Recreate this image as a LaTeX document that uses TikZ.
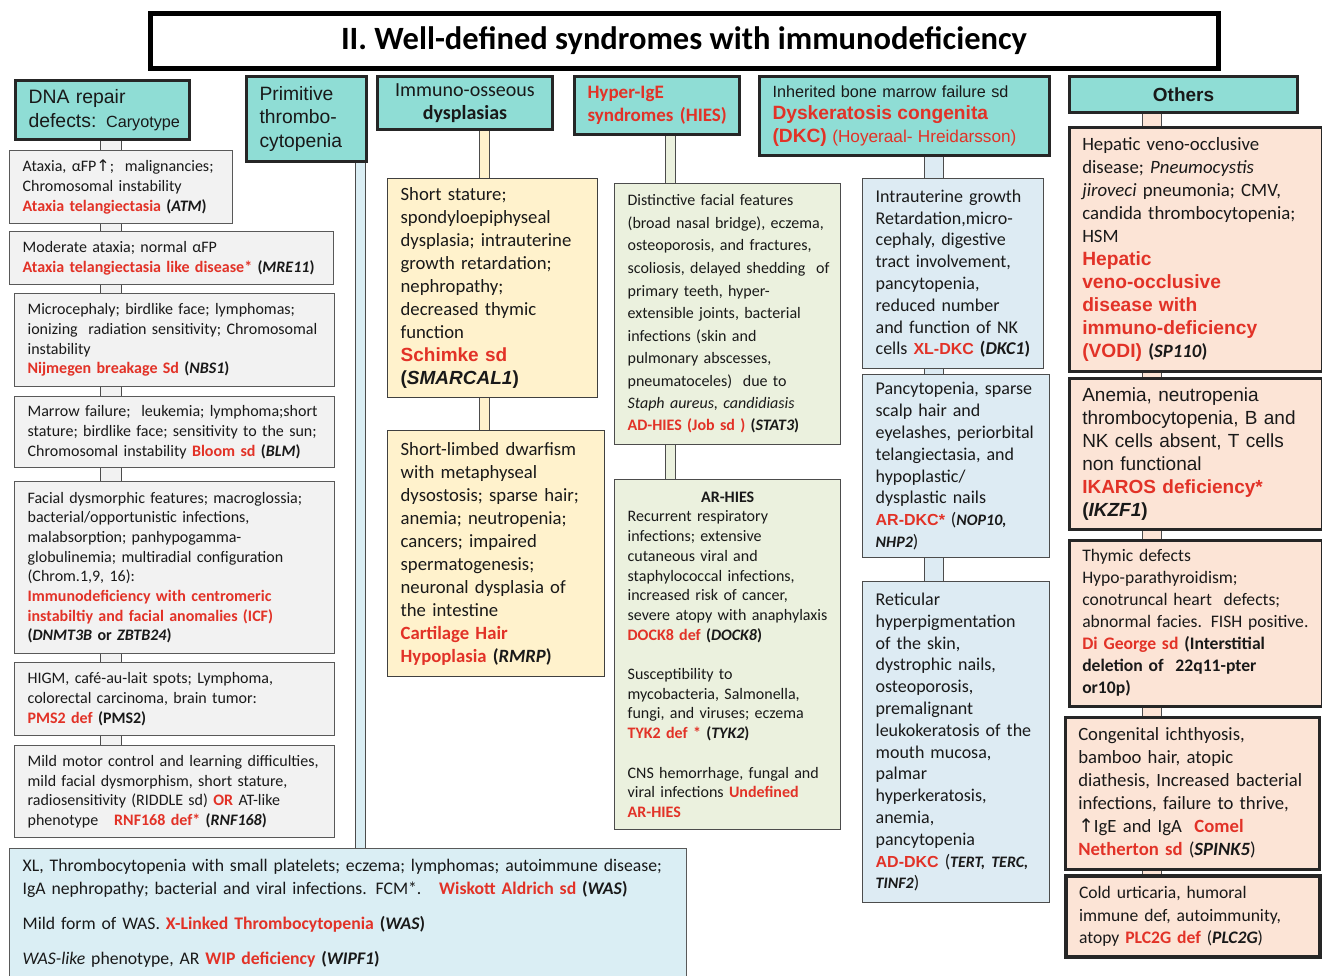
\documentclass[tikz,border=0pt]{standalone}
\usepackage{fontspec}
\setmainfont{Carlito}
\newfontfamily\arialf{Liberation Sans}
\newfontfamily\symf{DejaVu Sans}
\usepackage{tikz}
\tikzset{>=latex}
\definecolor{idred}{RGB}{226,50,39}
\definecolor{hdrteal}{RGB}{143,221,213}
\definecolor{boxgrey}{RGB}{242,242,242}
\definecolor{boxyellow}{RGB}{255,242,204}
\definecolor{boxgreen}{RGB}{235,241,222}
\definecolor{boxblue}{RGB}{221,235,243}
\definecolor{wasblue}{RGB}{218,238,244}
\definecolor{boxpeach}{RGB}{252,228,214}
\newcommand\rd[1]{\textcolor{idred}{\textbf{#1}}}
\newcommand\ard[1]{{\arialf\bfseries\color{idred}#1}}
\newcommand\dred[1]{{\arialf\bfseries\color{idred}\fontsize{16}{21.8}\selectfont#1}}
\newcommand\gene[1]{\textbf{(\textit{#1})}}
\newcommand\uparr{{\symf ↑}}
\tikzset{
  wh/.code 2 args={\pgfmathsetmacro\boxtw{#1-26}\tikzset{minimum width=#1pt,text width=\boxtw pt,minimum height=#2pt}},
  base/.style={anchor=north west,inner xsep=13pt,inner ysep=0pt,align=left,text=black!90},
  hdr/.style={base,draw=black!85,line width=3pt,fill=hdrteal},
  gbox/.style={base,draw=black!65,line width=1.3pt,fill=boxgrey,font=\fontsize{16}{19.7}\selectfont},
  ybox/.style={base,draw=black!75,line width=1.3pt,fill=boxyellow,font=\fontsize{18.7}{23}\selectfont},
  grbox/.style={base,draw=black!70,line width=1.3pt,fill=boxgreen,font=\fontsize{16}{22.5}\selectfont},
  dbox/.style={base,draw=black!70,line width=1.3pt,fill=boxblue,font=\fontsize{18}{21.8}\selectfont},
  obox/.style={base,draw=black!85,line width=2.5pt,fill=boxpeach,font=\fontsize{18.8}{23}\selectfont},
  bar/.style 2 args={draw=black!70,line width=1.2pt,double=#1,double distance=#2},
}
\begin{document}
\begin{tikzpicture}[x=1pt,y=-1pt]
  \useasboundingbox (0,0) rectangle (1322,975);
  \clip (0,0) rectangle (1322,975);
  \node[draw,line width=5pt,minimum width=1068pt,minimum height=55pt,anchor=north west,
        font=\bfseries\fontsize{32.5}{36}\selectfont] (ttl) at (147.5,10.5)
        {II. Well-defined syndromes with immunodeficiency};

  \node[hdr,wh={174}{59},font=\arialf\fontsize{19.4}{24}\selectfont] (h1) at (14,79)
    {DNA repair\\\mbox{defects: {\fontsize{16.2}{24}\selectfont Caryotype}}};
  \node[hdr,wh={120}{85},font=\arialf\fontsize{19.3}{23.5}\selectfont] (h2) at (245,75)
    {Primitive\\thrombo-\\cytopenia};
  \node[hdr,wh={175}{53},align=center,font=\fontsize{20}{23}\selectfont] (h3) at (376,75)
    {Immuno-osseous\\\textbf{dysplasias}};
  \node[hdr,wh={165}{58},font=\bfseries\fontsize{19}{23}\selectfont,text=idred] (h4) at (573,75)
    {Hyper-IgE\\\mbox{syndromes (HIES)}};
  \node[hdr,wh={290}{79},font=\arialf\fontsize{16.2}{22.5}\selectfont] (h5) at (758,75)
    {Inherited bone marrow failure sd\\
     {\color{idred}\bfseries\fontsize{19.2}{22.5}\selectfont Dyskeratosis congenita}\\
     \mbox{\color{idred}\fontsize{19.2}{22.5}\selectfont\textbf{(DKC)} {\fontsize{17.2}{22.5}\selectfont(Hoyeraal- Hreidarsson)}}};
  \node[hdr,wh={228}{36},align=center,font=\arialf\bfseries\fontsize{19}{22}\selectfont] (h6) at (1068,75)
    {Others};

  \node[gbox,wh={223}{73}] (b1) at (9,150)
    {Ataxia, αFP\uparr;~ malignancies;\\Chromosomal instability\\\rd{Ataxia telangiectasia} \gene{ATM}};
  \node[gbox,wh={324}{53}] (b2) at (9,231)
    {Moderate ataxia; normal αFP\\\rd{Ataxia telangiectasia like disease*} \gene{MRE11}};
  \node[gbox,wh={320}{93}] (b3) at (14,293)
    {Microcephaly; birdlike face; lymphomas;\\ionizing~ radiation sensitivity; Chromosomal\\instability\\\rd{Nijmegen breakage Sd} \gene{NBS1}};
  \node[gbox,wh={320}{71}] (b4) at (14,396)
    {Marrow failure;~ leukemia; lymphoma;short\\stature; birdlike face; sensitivity to the sun;\\Chromosomal instability \rd{Bloom sd} \gene{BLM}};
  \node[gbox,wh={320}{172}] (b5) at (14,481)
    {Facial dysmorphic features; macroglossia;\\bacterial/opportunistic infections,\\malabsorption; panhypogamma-\\globulinemia; multiradial configuration\\(Chrom.1,9, 16):\\
     \rd{Immunodeficiency with centromeric}\\\rd{instabiltiy and facial anomalies (ICF)}\\\textbf{(\textit{DNMT3B} or \textit{ZBTB24})}};
  \node[gbox,wh={320}{73}] (b6) at (14,662)
    {HIGM, café-au-lait spots; Lymphoma,\\colorectal carcinoma, brain tumor:\\\rd{PMS2 def} \textbf{(PMS2)}};
  \node[gbox,wh={320}{92}] (b7) at (14,745)
    {Mild motor control and learning difficulties,\\mild facial dysmorphism, short stature,\\radiosensitivity (RIDDLE sd) \rd{OR} AT-like\\phenotype\quad \rd{RNF168 def*} \gene{RNF168}};

  \node[base,draw=black!65,line width=1.3pt,fill=wasblue,wh={677}{130},font=\fontsize{17.7}{23}\selectfont] (was) at (9,848)
    {XL, Thrombocytopenia with small platelets; eczema; lymphomas; autoimmune disease;\\
     IgA nephropathy; bacterial and viral infections. FCM*.\quad \rd{Wiskott Aldrich sd} \gene{WAS}\\[12pt]
     Mild form of WAS. \rd{X-Linked Thrombocytopenia} \gene{WAS}\\[12pt]
     \textit{WAS-like} phenotype, AR \rd{WIP deficiency} \gene{WIPF1}};

  \node[ybox,wh={210}{219}] (y1) at (387,178)
    {Short stature;\\spondyloepiphyseal\\dysplasia; intrauterine\\growth retardation;\\nephropathy;\\decreased thymic\\function\\
     {\fontsize{19}{23}\selectfont\ard{Schimke sd}}\\{\arialf\bfseries\fontsize{19}{23}\selectfont(\textit{SMARCAL1})}};
  \node[ybox,wh={217}{246}] (y2) at (387,430)
    {Short-limbed dwarfism\\with metaphyseal\\dysostosis; sparse hair;\\anemia; neutropenia;\\cancers; impaired\\spermatogenesis;\\neuronal dysplasia of\\the intestine\\
     \rd{Cartilage Hair}\\\rd{Hypoplasia} \gene{RMRP}};

  \node[grbox,wh={226}{261}] (g1) at (614,183)
    {Distinctive facial features\\(broad nasal bridge), eczema,\\osteoporosis, and fractures,\\\mbox{scoliosis, delayed shedding~ of}\\primary teeth, hyper-\\extensible joints, bacterial\\infections (skin and\\pulmonary abscesses,\\pneumatoceles)~ due to\\
     \textit{Staph aureus, candidiasis}\\\rd{AD-HIES (Job sd )} \gene{STAT3}};
  \node[grbox,wh={226}{350},font=\fontsize{16}{19.7}\selectfont] (g2) at (614,479)
    {\makebox[\linewidth]{\textbf{AR-HIES}}\\Recurrent respiratory\\infections; extensive\\cutaneous viral and\\staphylococcal infections,\\increased risk of cancer,\\\mbox{severe atopy with anaphylaxis}\\\rd{DOCK8 def} \gene{DOCK8}\\[19.7pt]
     Susceptibility to\\mycobacteria, Salmonella,\\fungi, and viruses; eczema\\\rd{TYK2 def *} \gene{TYK2}\\[19.7pt]
     CNS hemorrhage, fungal and\\viral infections \rd{Undefined}\\\rd{AR-HIES}};

  \node[dbox,wh={181}{190}] (d1) at (862,178)
    {Intrauterine growth\\Retardation,micro-\\cephaly, digestive\\tract involvement,\\pancytopenia,\\reduced number\\and function of NK\\\mbox{cells \dred{XL-DKC} \gene{DKC1}}};
  \node[dbox,wh={187}{183}] (d2) at (862,374)
    {Pancytopenia, sparse\\scalp hair and\\eyelashes, periorbital\\telangiectasia, and\\hypoplastic/\\dysplastic nails\\
     \mbox{\dred{AR-DKC*} ({\fontsize{16}{21.8}\selectfont\textbf{\textit{NOP10,}}}}\\{\fontsize{16}{21.8}\selectfont\textbf{\textit{NHP2}}})};
  \node[dbox,wh={187}{321}] (d3) at (862,581)
    {Reticular\\hyperpigmentation\\of the skin,\\dystrophic nails,\\osteoporosis,\\premalignant\\leukokeratosis of the\\mouth mucosa,\\palmar\\hyperkeratosis,\\anemia,\\pancytopenia\\
     \mbox{\dred{AD-DKC} ({\fontsize{16}{21.8}\selectfont\textbf{\textit{TERT, TERC,}}}}\\{\fontsize{16}{21.8}\selectfont\textbf{\textit{TINF2}}})};

  \node[obox,wh={253}{244}] (o1) at (1068,126)
    {Hepatic veno-occlusive\\disease; \textit{Pneumocystis}\\\textit{jiroveci} pneumonia; CMV,\\candida thrombocytopenia;\\HSM\\
     {\fontsize{19.2}{23}\selectfont\ard{Hepatic}\\\ard{veno-occlusive}\\\ard{disease with}\\\ard{immuno-deficiency}\\\ard{(VODI)}} \gene{SP110}};
  \node[obox,wh={253}{151},font=\arialf\fontsize{19}{23}\selectfont] (o2) at (1068,377)
    {Anemia, neutropenia\\thrombocytopenia, B and\\NK cells absent, T cells\\non functional\\
     \ard{IKAROS deficiency*}\\\textbf{(\textit{IKZF1})}};
  \node[obox,wh={253}{166},font=\fontsize{17.6}{22}\selectfont] (o3) at (1068,539)
    {Thymic defects\\Hypo-parathyroidism;\\conotruncal heart~ defects;\\\mbox{abnormal facies. FISH positive.}\\
     \rd{Di George sd} \textbf{(Interstitial}\\\textbf{deletion of~ 22q11-pter}\\\textbf{or10p)}};
  \node[obox,wh={254}{152},font=\fontsize{18.7}{23}\selectfont] (o4) at (1064,716)
    {Congenital ichthyosis,\\bamboo hair, atopic\\\mbox{diathesis, Increased bacterial}\\infections, failure to thrive,\\
     \uparr IgE and IgA~ \rd{Comel}\\\rd{Netherton sd} (\textbf{\textit{SPINK5}})};
  \node[obox,line width=4pt,wh={254}{81},font=\fontsize{17.6}{22.5}\selectfont] (o5) at (1064,874)
    {Cold urticaria, humoral\\immune def, autoimmunity,\\atopy \rd{PLC2G def} (\textbf{\textit{PLC2G}})};

  \coordinate (c1) at (111,0);
  \coordinate (c2) at (360.5,0);
  \coordinate (c3) at (484.5,0);
  \coordinate (c4) at (670.5,0);
  \coordinate (c5) at (934,0);
  \coordinate (c6) at (1152,0);
  \foreach \a/\b in {h1/b1,b1/b2,b2/b3,b3/b4,b4/b5,b5/b6,b6/b7}
    \draw[bar={boxgrey}{20pt}] (\a.south -| c1) -- (\b.north -| c1);
  \draw[bar={wasblue}{9pt}] (h2.south -| c2) -- (was.north -| c2);
  \foreach \a/\b in {h3/y1,y1/y2}
    \draw[bar={boxyellow}{9pt}] (\a.south -| c3) -- (\b.north -| c3);
  \foreach \a/\b in {h4/g1,g1/g2}
    \draw[bar={boxgreen}{9pt}] (\a.south -| c4) -- (\b.north -| c4);
  \foreach \a/\b in {h5/d1,d1/d2,d2/d3}
    \draw[bar={boxblue}{18pt}] (\a.south -| c5) -- (\b.north -| c5);
  \foreach \a/\b in {h6/o1,o1/o2,o2/o3,o3/o4,o4/o5}
    \draw[bar={boxpeach}{18pt}] (\a.south -| c6) -- (\b.north -| c6);
\end{tikzpicture}
\end{document}
